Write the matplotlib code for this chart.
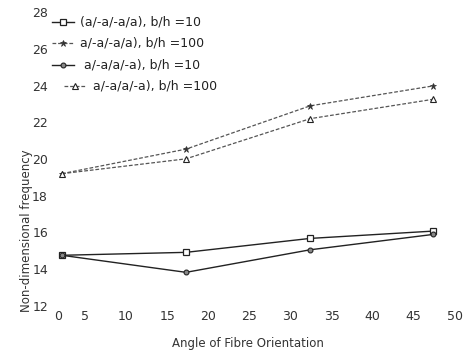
import matplotlib
matplotlib.use("Agg")
import matplotlib.pyplot as plt
import matplotlib.transforms as mtransforms
from matplotlib.lines import Line2D

angles = [2.2, 17.3, 32.4, 47.4]
sq_b10 = [14.75, 14.91, 15.67, 16.07]
st_b100 = [19.2, 20.54, 22.9, 23.99]
ci_b10 = [14.75, 13.82, 15.05, 15.89]
tr_b100 = [19.2, 20.01, 22.2, 23.26]
labels = ["(a/-a/-a/a), b/h =10", "a/-a/-a/a), b/h =100",
          "a/-a/a/-a), b/h =10", "a/-a/a/-a), b/h =100"]
xticks = [0, 5, 10, 15, 20, 25, 30, 35, 40, 45, 50]
yticks = [12, 14, 16, 18, 20, 22, 24, 26, 28]

plt.rcParams['font.family'] = ['DejaVu Sans']
W, H = 473, 352
fig = plt.figure(figsize=(4.73, 3.52), dpi=100)
ax = fig.add_axes([0.0926, 0.1315, 0.869, 0.8335])

tc = '#333333'
styles = [
    dict(color='#222222', lw=1.0, ls='-', marker='s', ms=4, mfc='white', mec='#222222', mew=0.9),
    dict(color='#555555', lw=0.9, ls=(0, (3, 1.5)), marker='*', ms=4.5, mfc='#333333', mec='#333333', mew=0.5),
    dict(color='#222222', lw=1.0, ls='-', marker='o', ms=3.5, mfc='#888888', mec='#222222', mew=0.8),
    dict(color='#555555', lw=0.9, ls=(0, (3, 1.5)), marker='^', ms=4.5, mfc='white', mec='#222222', mew=0.8),
]
series = [sq_b10, st_b100, ci_b10, tr_b100]
for ys, st, lab in zip(series, styles, labels):
    ax.plot(angles, ys, label=lab, **st)

ax.set_xlim(0, 50)
ax.set_ylim(12, 28)
ax.set_xticks(xticks)
ax.set_yticks(yticks)
for s in ax.spines.values():
    s.set_visible(False)
ax.tick_params(length=0, labelsize=9, colors=tc)
ax.tick_params(axis='x', pad=3)
ax.tick_params(axis='y', pad=-3)
xl = ax.get_xticklabels()
xl[0].set_transform(xl[0].get_transform() + mtransforms.ScaledTranslation(14/100, 0, fig.dpi_scale_trans))

ax.set_xlabel("Angle of Fibre Orientation", fontsize=8.5, color=tc)
ax.set_ylabel("Non-dimensional frequency", fontsize=8.5, color=tc)
ax.xaxis.set_label_coords(0.497, -0.105)
ax.yaxis.set_label_coords(-0.026, 0.255)

# manual legend (pixel positions from the reference)
ent_y = [22, 43, 65, 86]
h_x0 = [52, 52, 52, 64]
txt_x = [80, 80, 84, 93]
for i in range(4):
    y = 1 - ent_y[i] / H
    st = dict(styles[i])
    x0, x1 = h_x0[i] / W, (h_x0[i] + 22) / W
    fig.add_artist(Line2D([x0, x1], [y, y], transform=fig.transFigure,
                          color=st['color'], lw=st['lw'], ls=st['ls']))
    fig.add_artist(Line2D([(x0 + x1) / 2], [y], transform=fig.transFigure, ls='none',
                          marker=st['marker'], ms=st['ms'], mfc=st['mfc'],
                          mec=st['mec'], mew=st['mew']))
    fig.text(txt_x[i] / W, y, labels[i], fontsize=9, color='#222222',
             ha='left', va='center')

fig.savefig("out.png", dpi=100)
